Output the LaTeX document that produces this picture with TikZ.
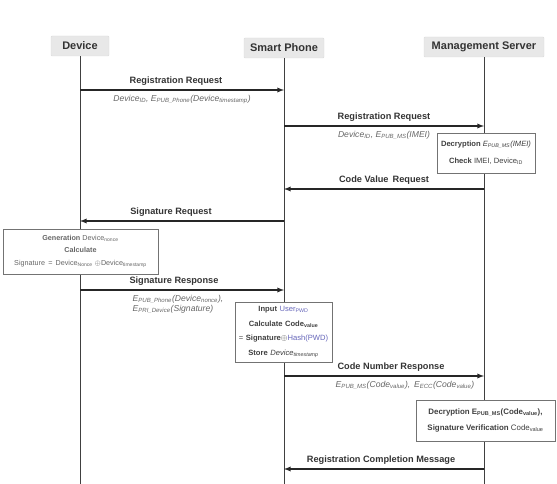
\documentclass[tikz,border=0pt]{standalone}
\usepackage{fontspec}
\setmainfont{Liberation Sans}
\usepackage{tikz}
\usetikzlibrary{calc}

\newcommand{\tsub}[1]{\textsubscript{#1}}

\begin{document}
\begin{tikzpicture}[x=1pt,y=-1pt]
    \tikzstyle{head}=[fill=black!9,draw=black!14,rounded corners=1pt,minimum height=20pt,inner sep=2pt,font=\fontsize{11}{13}\selectfont\bfseries,text=black!80]
    \tikzstyle{life}=[draw=black!75,line width=0.9pt]
    \tikzstyle{msg}=[draw=black!85,line width=1.3pt,-latex]
    \tikzstyle{lbl}=[above=1pt,font=\fontsize{9.2}{11}\selectfont\bfseries,text=black!80]
    \tikzstyle{par}=[below=1pt,align=left,font=\fontsize{8.6}{10.5}\selectfont\itshape,text=black!60]
    \tikzstyle{act}=[draw=black!55,fill=white,align=center,inner sep=1pt,text=black!75]

    \useasboundingbox (0,0) rectangle (557,484);

    \node(dev)[head,minimum width=58pt] at (80,46){Device};
    \node(phone)[head,minimum width=80pt] at (284,48){Smart Phone};
    \node(ms)[head,minimum width=120pt] at (484,47){Management Server};

    \coordinate (devEnd) at (80,484);
    \coordinate (phoneEnd) at (284,484);
    \coordinate (msEnd) at (484,484);
    \foreach \n/\y in {1/90,2/126,3/189,4/221,5/290,6/376,7/469}{
        \coordinate (d\n) at (80,\y);
        \coordinate (p\n) at (284,\y);
        \coordinate (m\n) at (484,\y);
    }

    \draw[life] (dev.south) -- (devEnd);
    \draw[life] (phone.south) -- (phoneEnd);
    \draw[life] (ms.south) -- (msEnd);

    \draw[msg] (d1) -- node[lbl,xshift=-6pt]{Registration Request}
        node[par]{Device\tsub{ID}, E\tsub{PUB\_Phone}(Device\tsub{timestamp})} (p1);
    \draw[msg] (p2) -- node[lbl]{Registration Request}
        node[par]{Device\tsub{ID}, E\tsub{PUB\_MS}(IMEI)} (m2);
    \draw[msg] (m3) -- node[lbl]{Code Value\, Request} (p3);
    \draw[msg] (p4) -- node[lbl,xshift=-11pt]{Signature Request} (d4);
    \draw[msg] (d5) -- node[lbl,xshift=-8pt]{Signature Response}
        node[par,xshift=-4pt]{E\tsub{PUB\_Phone}(Device\tsub{nonce}),\\E\tsub{PRI\_Device}(Signature)} (p5);
    \draw[msg] (p6) -- node[lbl,xshift=7pt]{Code Number Response}
        node[par,xshift=21pt]{E\tsub{PUB\_MS}(Code\tsub{value}),\, E\tsub{ECC}(Code\tsub{value})} (m6);
    \draw[msg] (m7) -- node[lbl,xshift=-3pt]{Registration Completion Message} (p7);

    \node(chk)[act,minimum width=98pt,minimum height=40pt,font=\fontsize{7.6}{17}\selectfont] at (486,153){
        \textbf{Decryption} \textit{E\tsub{PUB\_MS}(IMEI)}\\
        \textbf{Check} IMEI, Device\tsub{ID}};
    \node(gen)[act,minimum width=155pt,minimum height=45pt,font=\fontsize{7.2}{12.5}\selectfont,text=black!60] at (80.5,251.5){
        \textbf{Generation} Device\tsub{nonce}\\
        \textbf{Calculate}\\
        Signature \,=\, Device\tsub{Nonce} $\oplus$Device\tsub{timestamp}};
    \node(calc)[act,minimum width=97pt,text width=95pt,minimum height=60pt,font=\fontsize{7.6}{14.5}\selectfont] at (283.5,332){
        \textbf{Input} {\color{blue!55!black!60}User\tsub{PWD}}\\
        \textbf{Calculate Code\tsub{value}}\\
        \makebox[95pt]{= \textbf{Signature}$\oplus${\color{blue!55!black!60}Hash(PWD)}}\\
        \textbf{Store} \textit{Device\tsub{timestamp}}};
    \node(ver)[act,minimum width=139pt,minimum height=41pt,font=\fontsize{7.9}{16}\selectfont] at (485.5,420.5){
        \textbf{Decryption E\tsub{PUB\_MS}(Code\tsub{value}),}\\
        \textbf{Signature Verification} Code\tsub{value}};
\end{tikzpicture}
\end{document}
